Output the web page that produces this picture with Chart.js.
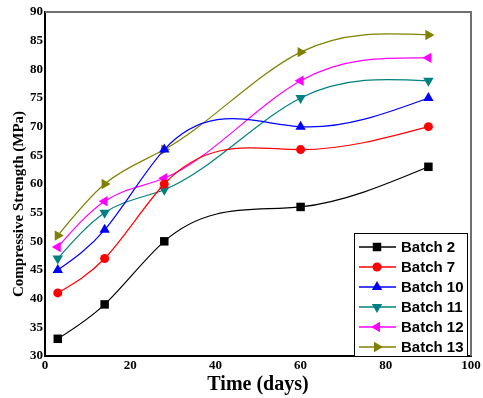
<!DOCTYPE html>
<html>
<head>
<meta charset="utf-8">
<script src="https://cdn.jsdelivr.net/npm/chart.js@4.4.1/dist/chart.umd.min.js"></script>
<style>
html,body{margin:0;padding:0;background:#fff;}
#wrap{width:483px;height:398px;}
</style>
</head>
<body>
<div id="wrap"><canvas id="c" width="483" height="398"></canvas></div>
<script>
const days = [3, 14, 28, 60, 90];
const seriesNames = ["Batch 2", "Batch 7", "Batch 10", "Batch 11", "Batch 12", "Batch 13"];
const batch2  = [33, 39, 50, 56, 63];
const batch7  = [41, 47, 60, 66, 70];
const batch10 = [45, 52, 66, 70, 75];
const batch11 = [47, 55, 59, 75, 78];
const batch12 = [49, 57, 61, 78, 82];
const batch13 = [51, 60, 66, 83, 86];
const xTicks = [0, 20, 40, 60, 80, 100];
const yTicks = [30, 35, 40, 45, 50, 55, 60, 65, 70, 75, 80, 85, 90];

const seriesValues = [batch2, batch7, batch10, batch11, batch12, batch13];
const colors = ["#000000", "#FF0000", "#0000FF", "#008080", "#FF00FF", "#808000"];
const styles = [
  {ps: "rect", rot: 0, r: 6},
  {ps: "circle", rot: 0, r: 4.5},
  {ps: "triangle", rot: 0, r: 6},
  {ps: "triangle", rot: 180, r: 6},
  {ps: "triangle", rot: 270, r: 6},
  {ps: "triangle", rot: 90, r: 6}
];

const datasets = seriesNames.map((name, i) => ({
  label: name,
  data: days.map((d, j) => ({x: d, y: seriesValues[i][j]})),
  borderColor: colors[i],
  backgroundColor: colors[i],
  borderWidth: 1.2,
  pointStyle: styles[i].ps,
  pointRotation: styles[i].rot,
  pointRadius: styles[i].r,
  pointBorderWidth: 0,
  tension: 0.4,
  fill: false
}));

// Natural cubic spline control points (computed from the element pixel positions)
function naturalSplineControls(pts) {
  const n = pts.length;
  if (n < 3) return;
  const h = [], s = [];
  for (let i = 0; i < n - 1; i++) {
    h.push(pts[i + 1].x - pts[i].x);
    s.push((pts[i + 1].y - pts[i].y) / h[i]);
  }
  const M = new Array(n).fill(0);
  const a = [], b = [], c = [], d = [];
  for (let i = 1; i < n - 1; i++) {
    a.push(h[i - 1]);
    b.push(2 * (h[i - 1] + h[i]));
    c.push(h[i]);
    d.push(6 * (s[i] - s[i - 1]));
  }
  const m = b.length;
  for (let i = 1; i < m; i++) {
    const w = a[i] / b[i - 1];
    b[i] -= w * c[i - 1];
    d[i] -= w * d[i - 1];
  }
  const sol = new Array(m);
  sol[m - 1] = d[m - 1] / b[m - 1];
  for (let i = m - 2; i >= 0; i--) sol[i] = (d[i] - c[i] * sol[i + 1]) / b[i];
  for (let i = 0; i < m; i++) M[i + 1] = sol[i];
  const deriv = new Array(n);
  for (let i = 0; i < n - 1; i++) deriv[i] = s[i] - h[i] * (2 * M[i] + M[i + 1]) / 6;
  deriv[n - 1] = s[n - 2] + h[n - 2] * (M[n - 2] + 2 * M[n - 1]) / 6;
  for (let i = 0; i < n - 1; i++) {
    const p = pts[i], q = pts[i + 1], hh = h[i] / 3;
    p.cp2x = p.x + hh; p.cp2y = p.y + deriv[i] * hh;
    q.cp1x = q.x - hh; q.cp1y = q.y - deriv[i + 1] * hh;
  }
  pts[0].cp1x = pts[0].x; pts[0].cp1y = pts[0].y;
  pts[n - 1].cp2x = pts[n - 1].x; pts[n - 1].cp2y = pts[n - 1].y;
}

const splinePlugin = {
  id: "natspline",
  beforeDatasetsDraw(chart) {
    chart.data.datasets.forEach((ds, i) => {
      const meta = chart.getDatasetMeta(i);
      const line = meta.dataset;
      if (!line) return;
      line.updateControlPoints(chart.chartArea, "x");
      naturalSplineControls(meta.data);
      line._pointsUpdated = true;
      line._path = undefined;
    });
  }
};

function drawMarker(ctx, style, color, x, y) {
  ctx.save();
  ctx.fillStyle = color;
  ctx.translate(x, y);
  ctx.rotate(style.rot * Math.PI / 180);
  ctx.beginPath();
  const r = style.r;
  if (style.ps === "rect") {
    const s = r * Math.SQRT1_2;
    ctx.rect(-s, -s, 2 * s, 2 * s);
  } else if (style.ps === "circle") {
    ctx.arc(0, 0, r, 0, Math.PI * 2);
  } else {
    for (let k = 0; k < 3; k++) {
      const a = k * 2 * Math.PI / 3;
      const px = Math.sin(a) * r, py = -Math.cos(a) * r;
      if (k === 0) ctx.moveTo(px, py); else ctx.lineTo(px, py);
    }
    ctx.closePath();
  }
  ctx.fill();
  ctx.restore();
}

const framePlugin = {
  id: "frame",
  afterDatasetsDraw(chart) {
    const ctx = chart.ctx, a = chart.chartArea;
    ctx.save();
    ctx.strokeStyle = "#707070";
    ctx.lineWidth = 2;
    ctx.beginPath();
    ctx.moveTo(a.left, a.top);
    ctx.lineTo(a.right, a.top);
    ctx.lineTo(a.right, a.bottom);
    ctx.stroke();
    ctx.restore();

    // legend box
    const bx = a.right - 117, by = a.bottom - 123, bw = 113, bh = 123;
    ctx.save();
    ctx.fillStyle = "#fff";
    ctx.fillRect(bx, by, bw, bh);
    ctx.strokeStyle = "#000";
    ctx.lineWidth = 1;
    ctx.strokeRect(bx + 0.5, by + 0.5, bw, bh);
    ctx.font = "bold 15px 'Liberation Sans', Arial, sans-serif";
    ctx.textBaseline = "middle";
    ctx.textAlign = "left";
    seriesNames.forEach((name, i) => {
      const y = by + 14 + i * 20;
      ctx.strokeStyle = colors[i];
      ctx.lineWidth = 1.5;
      ctx.beginPath();
      ctx.moveTo(bx + 5, y);
      ctx.lineTo(bx + 42, y);
      ctx.stroke();
      drawMarker(ctx, styles[i], colors[i], bx + 23, y);
      ctx.fillStyle = "#000";
      ctx.fillText(name, bx + 47, y + 1);
    });
    ctx.restore();

    // y axis title
    ctx.save();
    ctx.font = "bold 15px 'Liberation Serif', 'Times New Roman', serif";
    ctx.fillStyle = "#000";
    ctx.textAlign = "center";
    ctx.textBaseline = "middle";
    ctx.translate(19, 204);
    ctx.rotate(-Math.PI / 2);
    ctx.fillText("Compressive Strength (MPa)", 0, 0);
    ctx.restore();
  }
};

const tickFont = {family: "'Liberation Serif', 'Times New Roman', serif", size: 13, weight: "bold"};

new Chart(document.getElementById("c"), {
  type: "line",
  data: {datasets},
  plugins: [splinePlugin, framePlugin],
  options: {
    responsive: false,
    devicePixelRatio: 1,
    animation: false,
    layout: {padding: {top: 12, right: 12, left: 0, bottom: 0}},
    plugins: {legend: {display: false}, tooltip: {enabled: false}},
    scales: {
      x: {
        type: "linear",
        min: 0, max: 100,
        afterBuildTicks(s) { s.ticks = xTicks.map(v => ({value: v})); },
        afterFit(s) { s.height = 42; },
        grid: {display: false, drawTicks: false},
        border: {display: true, color: "#000", width: 2},
        ticks: {font: tickFont, color: "#000", padding: 2, maxRotation: 0, autoSkip: false},
        title: {display: true, text: "Time (days)", color: "#000",
          font: {family: "'Liberation Serif', 'Times New Roman', serif", size: 20, weight: "bold"},
          padding: {top: 0, bottom: 1}}
      },
      y: {
        type: "linear",
        min: 30, max: 90,
        afterBuildTicks(s) { s.ticks = yTicks.map(v => ({value: v})); },
        afterFit(s) { s.width = 45; },
        grid: {display: false, drawTicks: false},
        border: {display: true, color: "#000", width: 2},
        ticks: {font: tickFont, color: "#000", padding: 2, autoSkip: false},
        title: {display: false}
      }
    }
  }
});
</script>
</body>
</html>
